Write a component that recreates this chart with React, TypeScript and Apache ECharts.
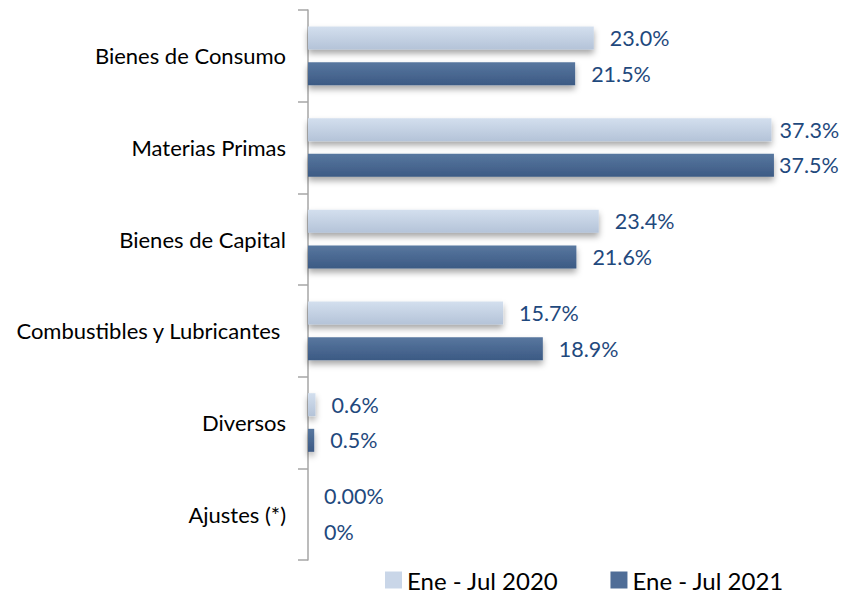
import React, { useEffect, useRef } from "react";
import * as echarts from "echarts";

const categories = [
  "Bienes de Consumo",
  "Materias Primas",
  "Bienes de Capital",
  "Combustibles y Lubricantes ",
  "Diversos",
  "Ajustes (*)",
];
const values2020 = [23.0, 37.3, 23.4, 15.7, 0.6, 0];
const values2021 = [21.5, 37.5, 21.6, 18.9, 0.5, 0];
const labels2020 = ["23.0%", "37.3%", "23.4%", "15.7%", "0.6%", "0.00%"];
const labels2021 = ["21.5%", "37.5%", "21.6%", "18.9%", "0.5%", "0%"];
const seriesNames = ["Ene - Jul 2020", "Ene - Jul 2021"];

const FONT = "Lato, 'Open Sans', sans-serif";

export default function App() {
  const ref = useRef<HTMLDivElement>(null);
  useEffect(() => {
    document.body.style.margin = "0";
    const chart = echarts.init(ref.current!, null, { renderer: "svg" });
    const lightGrad = new echarts.graphic.LinearGradient(0, 0, 0, 1, [
      { offset: 0, color: "#D3DFEE" },
      { offset: 1, color: "#B4C3D8" },
    ]);
    const darkGrad = new echarts.graphic.LinearGradient(0, 0, 0, 1, [
      { offset: 0, color: "#58779F" },
      { offset: 1, color: "#3C5A84" },
    ]);
    const labelStyle = (arr: string[]) => ({
      show: true,
      position: "right",
      distance: 16,
      color: "#1F497D",
      fontSize: 21.5,
      fontFamily: FONT,
      formatter: (p: any) => arr[p.dataIndex],
    });
    // Labels of the longest bars sit closer to the bar end (as in the reference)
    const toData = (vals: number[], closeDist: number) =>
      vals.map((v) => (v > 35 ? { value: v, label: { distance: closeDist } } : v));
    chart.setOption({
      animation: false,
      grid: { left: 308, top: 10, bottom: 37, width: 497 },
      legend: {
        bottom: 0,
        left: 380,
        itemWidth: 17,
        itemHeight: 17,
        itemGap: 52,
        icon: "rect",
        textStyle: { fontSize: 24, color: "#000", fontFamily: FONT },
        data: [
          { name: seriesNames[0], itemStyle: { color: "#C9D6E8" } },
          { name: seriesNames[1], itemStyle: { color: "#4F6D97" } },
        ],
      },
      xAxis: {
        type: "value",
        min: 0,
        max: 40,
        show: false,
      },
      yAxis: {
        type: "category",
        inverse: true,
        data: categories,
        axisLine: { show: true, lineStyle: { color: "#A6A6A6", width: 1.5 } },
        axisTick: { show: true, length: 10, lineStyle: { color: "#A6A6A6", width: 1.5 } },
        axisLabel: { color: "#000", fontSize: 22, fontFamily: FONT, margin: 22 },
      },
      series: [
        {
          name: seriesNames[0],
          type: "bar",
          data: toData(values2020, 8),
          barWidth: 23,
          barGap: "55%",
          itemStyle: {
            color: lightGrad,
            shadowColor: "rgba(0,0,0,0.35)",
            shadowBlur: 6,
            shadowOffsetY: 4,
          },
          label: labelStyle(labels2020),
        },
        {
          name: seriesNames[1],
          type: "bar",
          data: toData(values2021, 5),
          barWidth: 23,
          itemStyle: {
            color: darkGrad,
            shadowColor: "rgba(0,0,0,0.35)",
            shadowBlur: 6,
            shadowOffsetY: 4,
          },
          label: labelStyle(labels2021),
        },
      ],
    });
    return () => chart.dispose();
  }, []);
  return (
    <div
      ref={ref}
      style={{ position: "absolute", left: 0, top: 0, width: 843, height: 597 }}
    />
  );
}
